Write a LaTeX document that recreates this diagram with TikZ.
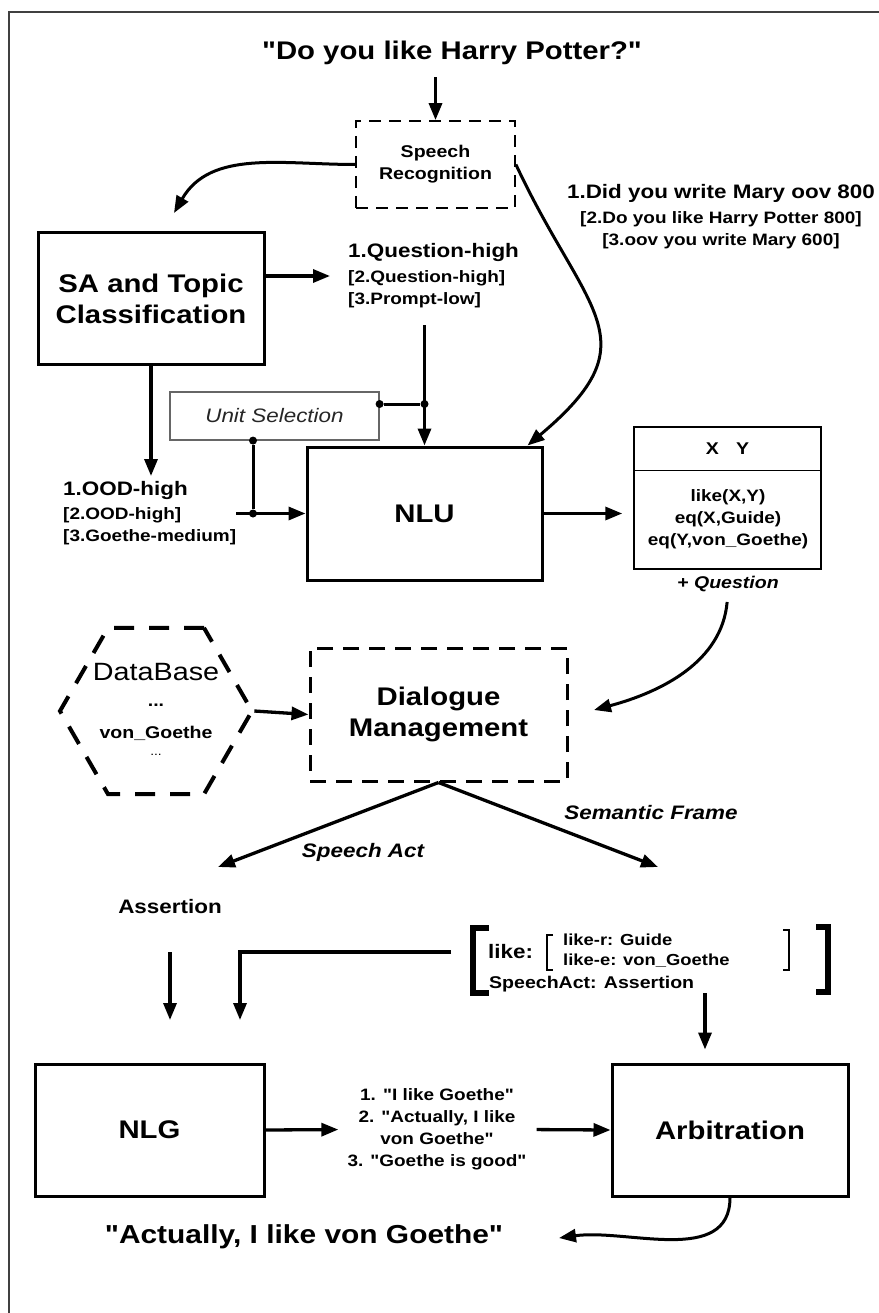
\documentclass[tikz,border=0pt]{standalone}
\usepackage{fontspec}
\setmainfont{Liberation Sans}[FakeStretch=1.15]
\newfontfamily\qfont{Liberation Sans}[FakeStretch=1.15]
\newcommand{\straightq}{{\qfont"}}
\usetikzlibrary{arrows.meta,shapes.geometric}

\begin{document}
\begin{tikzpicture}[x=1pt, y=-1pt,
  box/.style={draw, line width=3pt, inner sep=0pt, align=center},
  arr/.style={-{Triangle[length=17pt,width=13pt]}, line width=3.3pt},
  bigf/.style={font=\fontsize{25.5}{31}\selectfont\bfseries},
  midf/.style={font=\fontsize{19.5}{24}\selectfont\bfseries},
  smlf/.style={font=\fontsize{16.5}{22}\selectfont\bfseries},
  itf/.style={font=\fontsize{19.5}{24}\selectfont\bfseries\itshape},
  jdot/.style={circle, fill, inner sep=0pt, minimum size=8pt}]

\useasboundingbox (0,0) rectangle (878,1313);
\draw[line width=1.5pt, black!75] (9,1330) -- (9,12) -- (890,12);

\node[bigf, inner sep=0pt] (title) at (452,53) {\straightq Do you like Harry Potter?\straightq};
\node[draw, line width=1.8pt, dash pattern=on 12pt off 8pt, minimum width=159pt, minimum height=87pt, font=\fontsize{17}{22}\selectfont\bfseries, align=center, inner sep=0pt] (sr) at (435.5,164.5) {Speech\\Recognition};
\node[smlf, align=center, inner sep=0pt] (asr) at (721,217) {{\fontsize{19.5}{24}\selectfont 1.Did you write Mary oov 800}\\[3pt]{}[2.Do you like Harry Potter 800]\\{}[3.oov you write Mary 600]};

\node[box, bigf, minimum width=226pt, minimum height=131pt] (sa) at (151,298.5) {SA and Topic\\Classification};
\node[smlf, align=left, inner sep=0pt, anchor=west] (qsa) at (348,276) {{\fontsize{19.5}{24}\selectfont 1.Question-high}\\[3pt]{}[2.Question-high]\\{}[3.Prompt-low]};

\node[draw=black!60, line width=1.2pt, minimum width=209pt, minimum height=48pt, font=\fontsize{19.5}{24}\selectfont\itshape, text=black!85, inner sep=0pt] (us) at (274.5,416) {Unit Selection};
\node[smlf, align=left, inner sep=0pt, anchor=west] (ood) at (63,513) {{\fontsize{19.5}{24}\selectfont 1.OOD-high}\\[2pt]{}[2.OOD-high]\\{}[3.Goethe-medium]};
\node[box, bigf, minimum width=235pt, minimum height=133pt] (nlu) at (424.5,513.5) {NLU};

\node[draw, line width=1.5pt, minimum width=187pt, minimum height=142pt, inner sep=0pt] (xy) at (727.5,498) {};
\node[minimum width=187pt, minimum height=44pt, anchor=north, inner sep=0pt, font=\fontsize{17}{20}\selectfont\bfseries] (xyhead) at (xy.north) {X\quad Y};
\draw[line width=1.5pt] (xyhead.south west) -- (xyhead.south east);
\node[smlf, align=center, inner sep=0pt] (xybody) at (728,519) {like(X,Y)\\eq(X,Guide)\\eq(Y,von\_Goethe)};
\node[font=\fontsize{17}{20}\selectfont\bfseries\itshape, inner sep=0pt] (qtag) at (728,584) {+ Question};

\node[draw, regular polygon, regular polygon sides=6, minimum size=192pt, line width=4pt, dash pattern=on 20pt off 15pt, inner sep=0pt] (db) at (156,711) {};
\node[font=\fontsize{25}{28}\selectfont, inner sep=0pt] (dbname) at (156,672) {DataBase};
\node[font=\fontsize{17}{20}\selectfont\bfseries, inner sep=0pt] (dbdots) at (156,705) {...};
\node[font=\fontsize{17}{20}\selectfont\bfseries, inner sep=0pt] (dbitem) at (156,733) {von\_Goethe};
\node[font=\fontsize{12}{14}\selectfont, inner sep=0pt] (dbmore) at (156,755) {...};

\node[draw, line width=3pt, dash pattern=on 16pt off 10pt, minimum width=257pt, minimum height=133pt, bigf, align=center, inner sep=0pt] (dm) at (438.5,714.5) {Dialogue\\Management};

\node[itf, inner sep=0pt] (sact) at (363,852) {Speech Act};
\node[itf, inner sep=0pt] (sfr) at (651,813) {Semantic Frame};
\node[midf, inner sep=0pt] (assert) at (170,907) {Assertion};

\node[midf, inner sep=0pt, anchor=west] (like) at (488,952) {like:};
\node[font=\fontsize{16}{20}\selectfont\bfseries, inner sep=0pt, anchor=west] (liker) at (563,940) {like-r: Guide};
\node[font=\fontsize{16}{20}\selectfont\bfseries, inner sep=0pt, anchor=west] (likee) at (563,961) {like-e: von\_Goethe};
\node[font=\fontsize{17}{20}\selectfont\bfseries, inner sep=0pt, anchor=west] (sact2) at (489,984) {SpeechAct: Assertion};
\draw[line width=6pt] (489,928) -- (473,928) -- (473,993) -- (489,993);
\draw[line width=6pt] (816,927) -- (828,927) -- (828,992) -- (816,992);
\draw[line width=2.5pt] (553,935) -- (547,935) -- (547,970) -- (553,970);
\draw[line width=2.5pt] (783,930) -- (789,930) -- (789,970) -- (783,970);

\node[box, bigf, minimum width=229pt, minimum height=132pt] (nlg) at (149.5,1130) {NLG};
\node[box, bigf, minimum width=236pt, minimum height=132pt] (arb) at (730,1130) {Arbitration};
\node[smlf, align=center, inner sep=0pt] (list) at (437,1129.5) {1. \straightq I like Goethe\straightq\\2. \straightq Actually, I like\\von Goethe\straightq\\3. \straightq Goethe is good\straightq};
\node[font=\fontsize{26}{30}\selectfont\bfseries, inner sep=0pt] (final) at (304,1237) {\straightq Actually, I like von Goethe\straightq};

\draw[arr, shorten <=12pt] (sr.north |- title.south) -- (sr.north);
\coordinate (satip) at (174,213);
\draw[arr, line width=3pt] (sr.west) to[out=180, in=60] (satip);
\draw[arr, line width=3pt] (sr.east) to[out=-65, in=40, looseness=1.5] ([xshift=-16pt]nlu.north east);
\draw[arr, shorten >=18pt] (sa.east |- qsa.west) -- (qsa.west);
\draw[arr, shorten >=5pt] (sa.south) -- (sa.south |- ood.north);
\draw[arr, shorten <=17pt] (nlu.north |- qsa.south) -- (nlu.north);

\node[jdot] (d1) at ([yshift=12pt]us.east) {};
\node[jdot] (d2) at (d1 -| nlu.north) {};
\draw[line width=3pt] (d1) -- (d2);
\node[jdot] (d3) at ([xshift=-21.5pt]us.south) {};
\node[jdot] (d4) at (d3 |- nlu.west) {};
\draw[line width=3pt] (d3) -- (d4);
\draw[arr] (ood.east |- nlu.west) -- (nlu.west);

\draw[arr, shorten >=11pt] (nlu.east) -- (xy.west |- nlu.east);
\coordinate (dmtip) at (594,710);
\draw[arr, line width=3pt, shorten <=10pt] (qtag.south) to[out=-95, in=15] (dmtip);
\draw[arr] (db.east) -- (dm.west);

\coordinate (actip) at (218,867);
\coordinate (frtip) at (658,867);
\draw[arr] (dm.south) -- (actip);
\draw[arr] (dm.south) -- (frtip);

\coordinate (nlgA) at (170,1020);
\draw[arr, shorten <=38pt] (assert.south) -- (nlgA);
\coordinate (sfl) at (451,952);
\coordinate (nlgB) at (240,1020);
\draw[arr] (sfl) -| (nlgB);
\coordinate (sfb) at (705,993);
\draw[arr, shorten >=13pt] (sfb) -- (sfb |- arb.north);

\draw[arr, shorten >=9pt] (nlg.east) -- (list.west);
\draw[arr, shorten <=10pt] (list.east) -- (arb.west);
\coordinate (outtip) at (559,1238);
\draw[arr, line width=3pt] (arb.south) to[out=-90, in=8] (outtip);
\end{tikzpicture}
\end{document}
